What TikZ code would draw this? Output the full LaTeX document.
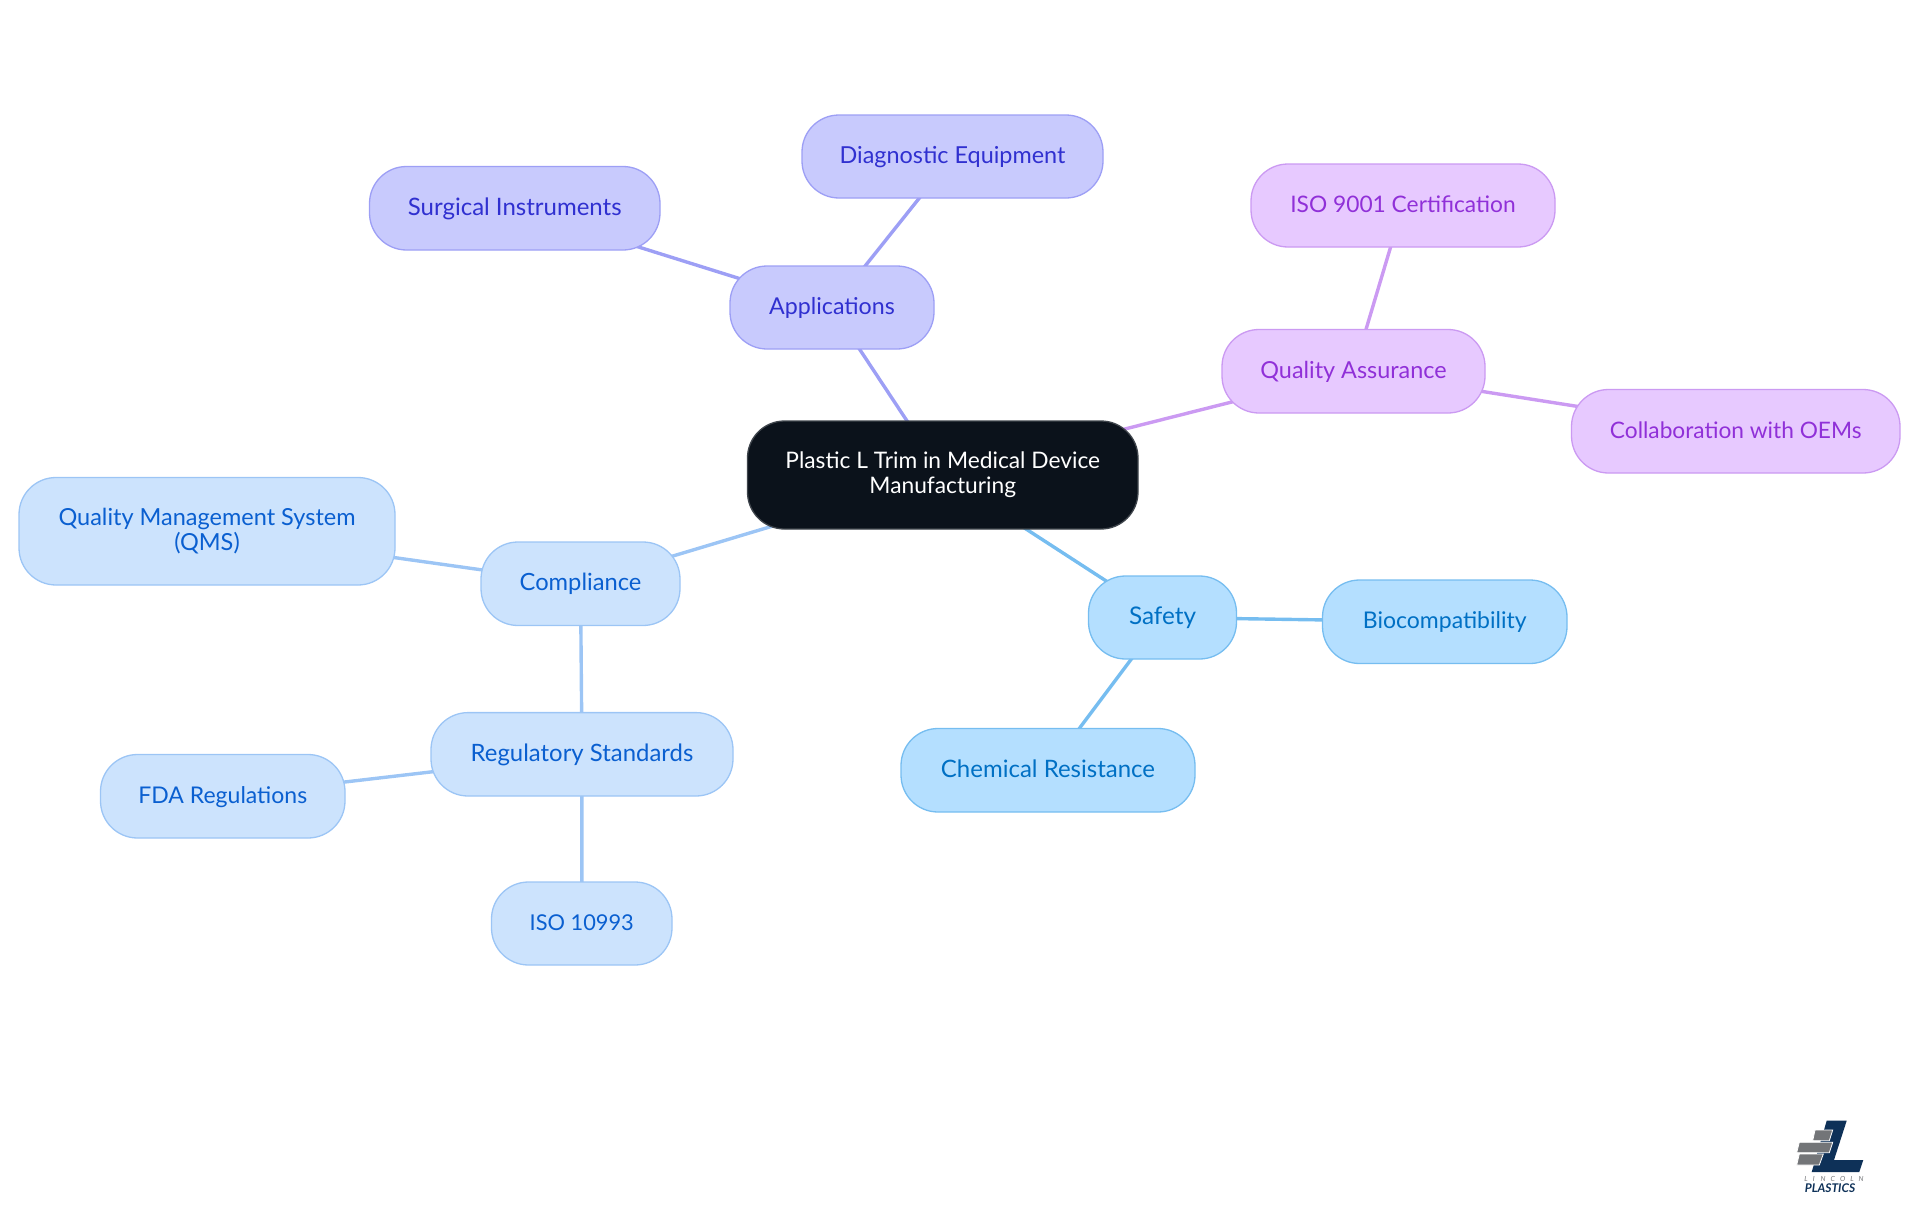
\documentclass[tikz,border=0pt]{standalone}
\usepackage{fontspec}
\setmainfont{Lato}
\usetikzlibrary{backgrounds}
\definecolor{cenfill}{HTML}{0B121B}
\definecolor{cenline}{HTML}{3F454C}
\definecolor{blfill}{HTML}{CCE3FD}
\definecolor{blline}{HTML}{9CC5F5}
\definecolor{bltext}{HTML}{0A5FD0}
\definecolor{vifill}{HTML}{C8CAFD}
\definecolor{viline}{HTML}{9D9FF5}
\definecolor{vitext}{HTML}{3030D0}
\definecolor{skfill}{HTML}{B4DFFF}
\definecolor{skline}{HTML}{76BDF0}
\definecolor{sktext}{HTML}{0070C4}
\definecolor{pufill}{HTML}{E7C9FF}
\definecolor{puline}{HTML}{CB9AF2}
\definecolor{putext}{HTML}{9030D8}
\definecolor{navy}{HTML}{0E3158}
\definecolor{bargray}{HTML}{737578}
\tikzset{
  x=1pt,y=-1pt,
  fs/.style={font=\fontsize{#1}{25}\selectfont},
  mind/.style={rounded corners=37pt,draw,line width=1.3pt,inner sep=0pt,align=center,fs=23},
  oneline/.style={text height=18pt,text depth=3.6pt},
  central/.style={mind,fill=cenfill,draw=cenline,text=white},
  bluebox/.style={mind,fill=blfill,draw=blline,text=bltext},
  violetbox/.style={mind,oneline,fill=vifill,draw=viline,text=vitext},
  skybox/.style={mind,oneline,fill=skfill,draw=skline,text=sktext},
  purplebox/.style={mind,oneline,fill=pufill,draw=puline,text=putext},
  bluelink/.style={draw=blline,line width=3.4pt},
  violetlink/.style={draw=viline,line width=3.4pt},
  skylink/.style={draw=skline,line width=3.4pt},
  purplelink/.style={draw=puline,line width=3.4pt},
}
\newcommand{\mnode}[7]{\node[#1,minimum width=#4-#3,minimum height=#6-#5] (#2) at ({(#3+#4)/2},{(#5+#6)/2}) {#7};}
\begin{document}
\begin{tikzpicture}
\useasboundingbox (0,0) rectangle (1920,1215);
\mnode{central,fs=22.75}{cen}{747.5}{1138}{421}{529}{Plastic L Trim in Medical Device\\Manufacturing}
\mnode{violetbox,fs=23.2}{app}{730}{934}{266}{349}{Applications}
\mnode{violetbox,fs=24}{sur}{369.5}{660}{166.5}{250}{Surgical Instruments}
\mnode{violetbox,fs=23.4}{dia}{802}{1103}{115}{198}{Diagnostic Equipment}
\mnode{purplebox,fs=23.4}{qua}{1222}{1485}{329.5}{413}{Quality Assurance}
\mnode{purplebox,fs=22.75}{iso}{1251}{1555}{164}{247}{ISO 9001 Certification}
\mnode{purplebox,fs=22.7}{col}{1571.5}{1900}{389.5}{473}{Collaboration with OEMs}
\mnode{skybox,fs=24.3}{saf}{1088.5}{1236.5}{576}{659}{Safety}
\mnode{skybox}{bio}{1322.5}{1567}{580}{663.5}{Biocompatibility}
\mnode{skybox,fs=24}{che}{901}{1195}{728.5}{812}{Chemical Resistance}
\mnode{bluebox,oneline,fs=23.7}{com}{481}{680}{542}{625.5}{Compliance}
\mnode{bluebox,fs=23.5}{qms}{19}{395}{477.5}{585}{Quality Management System\\(QMS)}
\mnode{bluebox,oneline,fs=23.9}{reg}{431}{733}{712.6}{796}{Regulatory Standards}
\mnode{bluebox,oneline}{fda}{100.5}{345}{754.5}{838}{FDA Regulations}
\mnode{bluebox,oneline,fs=21.8}{isb}{491.5}{672}{882}{965}{ISO 10993}
\begin{scope}[on background layer]
\draw[violetlink] (cen.center) -- (app.center);
\draw[violetlink] (app.center) -- (sur.center);
\draw[violetlink] (app.center) -- (dia.center);
\draw[purplelink] (cen.center) -- (qua.center);
\draw[purplelink] (qua.center) -- (iso.center);
\draw[purplelink] (qua.center) -- (col.center);
\draw[skylink] (cen.center) -- (saf.center);
\draw[skylink] (saf.center) -- (bio.center);
\draw[skylink] (saf.center) -- (che.center);
\draw[bluelink] (cen.center) -- (com.center);
\draw[bluelink] (com.center) -- (qms.center);
\draw[bluelink] (com.center) -- (reg.center);
\draw[bluelink] (reg.center) -- (fda.center);
\draw[bluelink] (reg.center) -- (isb.center);
\end{scope}
% logo
\fill[navy] (1826.7,1120.7) -- (1846.7,1120.7) -- (1834,1160) -- (1863.3,1160) -- (1859.3,1172) -- (1811.7,1172) -- cycle;
\fill[bargray,draw=white,line width=0.8pt] (1815,1130) -- (1832.7,1130) -- (1829.3,1140.7) -- (1812.7,1140.7) -- cycle;
\fill[bargray,draw=white,line width=0.8pt] (1799.3,1142.3) -- (1832.7,1142.3) -- (1829.3,1152.7) -- (1796.7,1152.7) -- cycle;
\fill[bargray,draw=white,line width=0.8pt] (1799.3,1154) -- (1823.3,1154) -- (1819.3,1165) -- (1796.7,1165) -- cycle;
\node[inner sep=0pt,text=bargray,font=\fontsize{7}{8}\selectfont\itshape] (lin) at (1834,1178.5) {L\hspace{5pt}I\hspace{6pt}N\hspace{5pt}C\hspace{5pt}O\hspace{5pt}L\hspace{5pt}N};
\node[inner sep=0pt,text=navy,font=\fontsize{12}{13}\selectfont\bfseries\itshape] (pla) at (1830,1188.5) {PLASTICS};
\end{tikzpicture}
\end{document}
